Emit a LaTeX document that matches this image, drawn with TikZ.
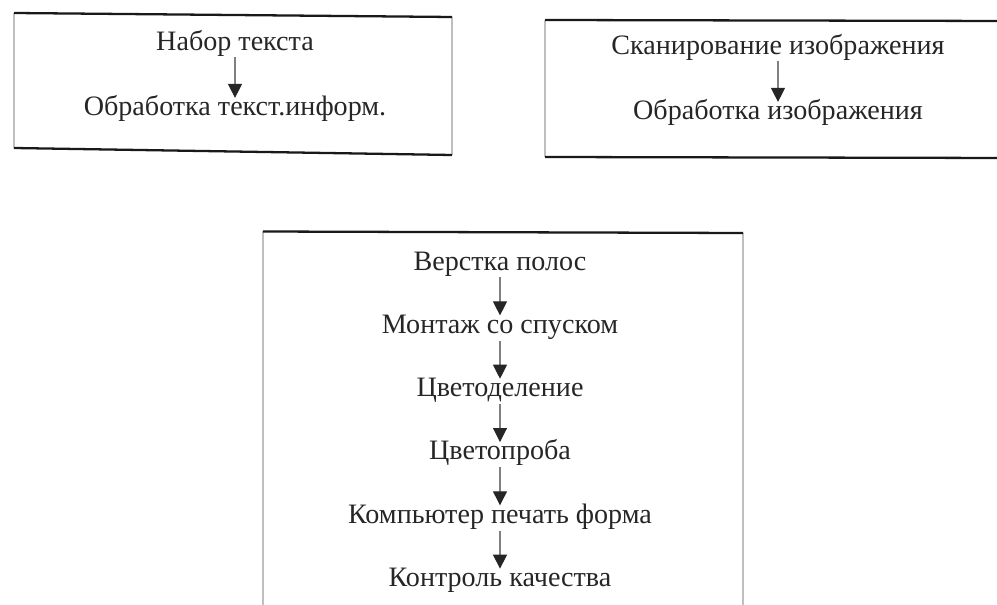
\documentclass[tikz,border=0pt]{standalone}
\usepackage{fontspec}
\setmainfont{Liberation Serif}
\usetikzlibrary{positioning, arrows.meta}

\tikzset{
	stage/.style={font=\fontsize{16}{19}\selectfont, text=black!85, inner sep=1pt, text height=10pt, text depth=2pt},
	flow/.style={draw=black!50, line width=.6pt, -{Triangle[length=2.8mm, width=2.8mm, color=black!85]}, shorten <=1pt, shorten >=-1pt},
	rim/.style={line width=1.3pt, black!90},
	side/.style={line width=1pt, black!25}
}

\begin{document}
\begin{tikzpicture}[node distance=8.1mm]
	\useasboundingbox (0,0) rectangle (19.94,-12.1);
	\draw[side] (0.28,-0.26) -- (0.28,-2.96) (9.04,-0.34) -- (9.04,-3.1);
	\draw[rim] (0.28,-0.26) -- (9.04,-0.34) (0.28,-2.96) -- (9.04,-3.1);
	\draw[side] (10.9,-0.4) -- (10.9,-3.14);
	\draw[rim] (20.2,-0.42) -- (10.9,-0.4) (10.9,-3.14) -- (20.2,-3.16);
	\draw[side] (5.26,-12.3) -- (5.26,-4.63) (14.86,-4.66) -- (14.86,-12.3);
	\draw[rim] (5.26,-4.63) -- (14.86,-4.66);
	\node[stage] (type) at (4.7,-0.86) {Набор текста};
	\node[stage, below=of type] (textproc) {Обработка текст.информ.};
	\draw[flow] (type) -- (textproc);
	\node[stage] (scan) at (15.56,-0.94) {Сканирование изображения};
	\node[stage, below=of scan] (imgproc) {Обработка изображения};
	\draw[flow] (scan) -- (imgproc);
	\node[stage] (layout) at (10.0,-5.26) {Верстка полос};
	\node[stage, below=7.6mm of layout] (mount) {Монтаж со спуском};
	\node[stage, below=7.6mm of mount] (colorsep) {Цветоделение};
	\node[stage, below=7.6mm of colorsep] (proof) {Цветопроба};
	\node[stage, below=7.6mm of proof] (plate) {Компьютер печать форма};
	\node[stage, below=7.6mm of plate] (check) {Контроль качества};
	\draw[flow] (layout) -- (mount);
	\draw[flow] (mount) -- (colorsep);
	\draw[flow] (colorsep) -- (proof);
	\draw[flow] (proof) -- (plate);
	\draw[flow] (plate) -- (check);
\end{tikzpicture}
\end{document}
